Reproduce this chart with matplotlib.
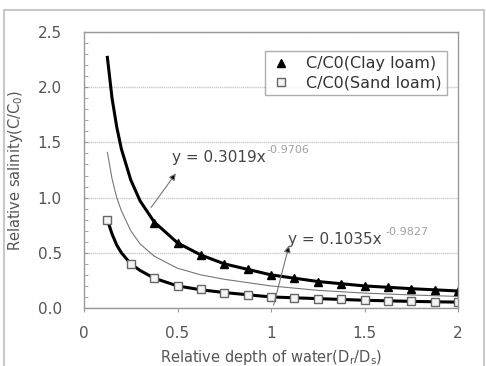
import matplotlib
matplotlib.use("Agg")
import matplotlib.pyplot as plt
from matplotlib.patches import Rectangle

plt.rcParams["font.family"] = ["DejaVu Sans"]
plt.rcParams["mathtext.default"] = "regular"

# measured points (relative depth of water vs relative salinity)
clay_x = [0.375, 0.5, 0.625, 0.75, 0.875, 1.0, 1.125, 1.25, 1.375, 1.5, 1.625, 1.75, 1.875, 2.0]
clay_y = [0.77, 0.59, 0.48, 0.40, 0.35, 0.30, 0.27, 0.24, 0.22, 0.20, 0.19, 0.175, 0.165, 0.155]

sand_x = [0.125, 0.25, 0.375, 0.5, 0.625, 0.75, 0.875, 1.0, 1.125, 1.25, 1.375, 1.5, 1.625, 1.75, 1.875, 2.0]
sand_y = [0.80, 0.40, 0.27, 0.20, 0.17, 0.14, 0.12, 0.10, 0.09, 0.085, 0.077, 0.07, 0.065, 0.06, 0.057, 0.053]

# trend curves
trend_x = [0.125, 0.15, 0.175, 0.2, 0.25, 0.3, 0.375, 0.5, 0.625, 0.75, 1.0, 1.25, 1.5, 1.75, 2.0]
clay_trend = [2.27, 1.90, 1.64, 1.44, 1.16, 0.97, 0.78, 0.59, 0.48, 0.40, 0.30, 0.24, 0.20, 0.175, 0.154]
sand_trend = [0.80, 0.67, 0.57, 0.50, 0.40, 0.34, 0.27, 0.20, 0.165, 0.14, 0.10, 0.085, 0.07, 0.06, 0.053]
mid_trend = [1.41, 1.17, 1.00, 0.88, 0.70, 0.58, 0.47, 0.36, 0.30, 0.26, 0.20, 0.16, 0.135, 0.118, 0.105]

clay_label = "C/C0(Clay loam)"
sand_label = "C/C0(Sand loam)"

grey = "#555555"

fig = plt.figure(figsize=(4.86, 3.66), dpi=100)
fig.patches.append(Rectangle((4 / 486, -0.05), 480 / 486, 1.05 - 10 / 366,
                             transform=fig.transFigure, fill=False,
                             edgecolor="#c8c8c8", lw=1.5))
ax = fig.add_axes([84 / 486, 58 / 366, 374 / 486, 276 / 366])

ax.plot(trend_x, mid_trend, color="#777777", lw=0.8)
ax.plot(trend_x, clay_trend, color="black", lw=2.2)
ax.plot(trend_x, sand_trend, color="black", lw=2.2)
ax.plot(clay_x, clay_y, ls="none", marker="^", ms=5.5, color="black", label=clay_label)
ax.plot(sand_x, sand_y, ls="none", marker="s", ms=6, mfc="#f4f4f4", mec="#666666",
        mew=1.0, label=sand_label)

ax.set_xlim(0, 2)
ax.set_ylim(0, 2.5)
ax.set_xticks([0, 0.5, 1, 1.5, 2])
ax.set_xticklabels(["0", "0.5", "1", "1.5", "2"])
ax.set_yticks([0, 0.5, 1.0, 1.5, 2.0, 2.5])
ax.set_yticklabels(["0.0", "0.5", "1.0", "1.5", "2.0", "2.5"])
ax.set_yticks([i / 10 for i in range(26)], minor=True)
ax.tick_params(axis="y", which="both", direction="in", length=3, color="#999999",
               labelsize=11, labelcolor=grey, pad=16)
ax.tick_params(axis="x", which="both", direction="out", length=3, color="#999999",
               labelsize=11, labelcolor=grey, pad=10)
ax.grid(axis="y", which="major", color="#cccccc", lw=1.0, ls=(0, (1, 0.5)))
for s in ax.spines.values():
    s.set_color("#999999")
    s.set_linewidth(1.0)

ax.set_xlabel("Relative depth of water(D$_r$/D$_s$)", fontsize=10.5, color=grey, labelpad=5)
ax.set_ylabel("Relative salinity(C/C$_0$)", fontsize=10.5, color=grey, labelpad=9)

leg = ax.legend(loc="upper right", bbox_to_anchor=(0.97, 0.93), fontsize=11.5,
                frameon=True, fancybox=False, borderpad=0.3, handletextpad=0.9,
                labelspacing=0.25, handlelength=1.4, borderaxespad=0)
leg.get_frame().set_edgecolor("#999999")
leg.get_frame().set_linewidth(1.0)
for t in leg.get_texts():
    t.set_color("#333333")

arrow_style = dict(arrowstyle="-|>", fc="black", ec="#777777", lw=0.8, mutation_scale=10)
ax.annotate("", xy=(0.50, 1.24), xytext=(0.35, 0.89), arrowprops=arrow_style)
ax.annotate("", xy=(1.10, 0.59), xytext=(1.01, 0.0), arrowprops=arrow_style)

ax.text(0.47, 1.36, "y = 0.3019x", fontsize=11, color="#444444", va="center")
ax.text(0.975, 1.43, "-0.9706", fontsize=8, color="#a0a0a0", va="center")
ax.text(1.09, 0.62, "y = 0.1035x", fontsize=11, color="#444444", va="center")
ax.text(1.61, 0.685, "-0.9827", fontsize=8, color="#a0a0a0", va="center")

fig.savefig("out.png", dpi=100)
